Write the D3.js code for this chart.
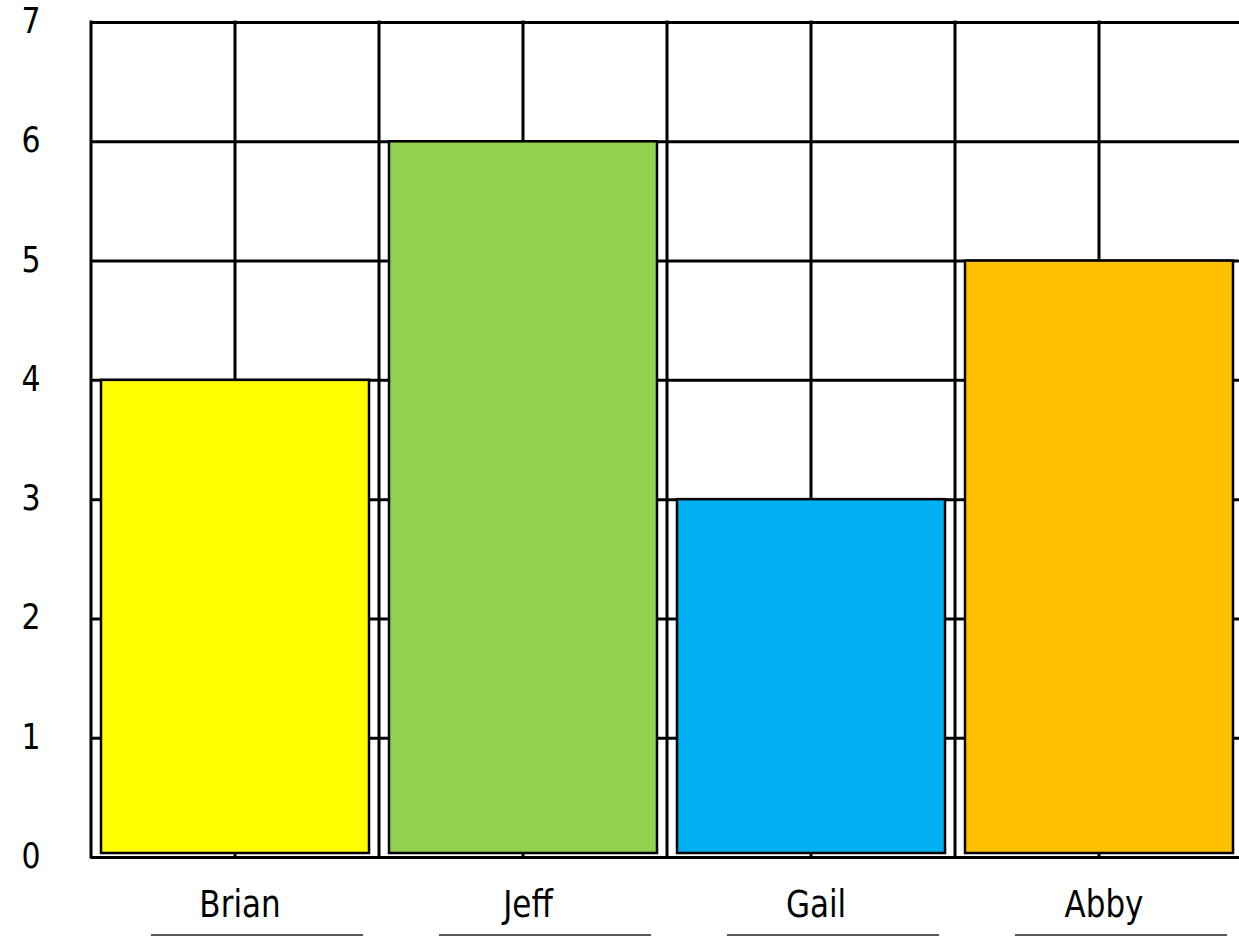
<!DOCTYPE html>
<html>
<head>
<meta charset="utf-8">
<script src="https://cdn.jsdelivr.net/npm/d3@7"></script>
<style>
  html, body { margin: 0; padding: 0; background: #fff; }
  svg { display: block; }
  text { font-family: "Comic Sans MS", "DejaVu Sans", sans-serif; fill: #000; }
</style>
</head>
<body>
<svg id="chart" width="1239" height="936"></svg>
<script>
// ---- data ----
const categories = ["Brian", "Jeff", "Gail", "Abby"];
const values = [4, 6, 3, 5];
const colors = ["#FFFF00", "#92D050", "#00B0F0", "#FFC000"];
const yTicks = [0, 1, 2, 3, 4, 5, 6, 7];

// ---- layout ----
const plotLeft = 91, plotRight = 1243, plotTop = 22, plotBottom = 857;

const svg = d3.select("#chart");

const x = d3.scaleBand().domain(categories).range([plotLeft, plotRight]).paddingInner(0).paddingOuter(0);
const y = d3.scaleLinear().domain([0, 7]).range([plotBottom, plotTop]);
const bw = x.bandwidth();

// grid: horizontal lines via axis
const gridH = svg.append("g")
  .attr("transform", `translate(${plotLeft},0)`)
  .call(d3.axisLeft(y).tickValues(yTicks).tickSize(-(plotRight - plotLeft)).tickFormat(""));
gridH.select(".domain").remove();
gridH.selectAll(".tick line").attr("stroke", "#000").attr("stroke-width", 3);

// grid: vertical lines at band edges and band centres
const vx = [];
categories.forEach(c => { vx.push(x(c)); vx.push(x(c) + bw / 2); });
vx.push(plotRight);
svg.append("g").selectAll("line").data(vx).join("line")
  .attr("x1", d => d).attr("x2", d => d)
  .attr("y1", y(7) - 1.5).attr("y2", y(0) + 1.5)
  .attr("stroke", "#000").attr("stroke-width", 3);

// bars
const inset = 10;
svg.append("g").selectAll("rect").data(categories).join("rect")
  .attr("x", d => x(d) + inset)
  .attr("width", bw - 2 * inset)
  .attr("y", (d, i) => y(values[i]))
  .attr("height", (d, i) => y(0) - 4 - y(values[i]))
  .attr("fill", (d, i) => colors[i])
  .attr("stroke", "#000")
  .attr("stroke-width", 2.5);

// y labels
svg.append("g").selectAll("text").data(yTicks).join("text")
  .attr("text-anchor", "middle")
  .attr("font-size", 30)
  .attr("transform", d => `translate(31,${y(d) + 11}) scale(1,1.2)`)
  .text(d => d);

// category labels
svg.append("g").selectAll("text").data(categories).join("text")
  .attr("text-anchor", "middle")
  .attr("font-size", 31)
  .attr("transform", d => `translate(${x(d) + bw / 2 + 5},917) scale(1,1.2)`)
  .text(d => d);

// underlines for labels
svg.append("g").selectAll("line").data(categories).join("line")
  .attr("x1", d => x(d) + bw / 2 + 22 - 106)
  .attr("x2", d => x(d) + bw / 2 + 22 + 106)
  .attr("y1", 935).attr("y2", 935)
  .attr("stroke", "#222").attr("stroke-width", 1.5);
</script>
</body>
</html>
